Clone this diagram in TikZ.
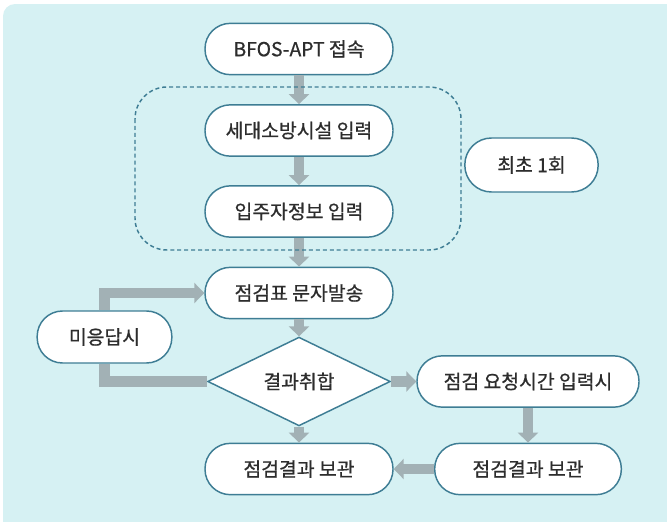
\documentclass[tikz,border=0pt]{standalone}
\usepackage{fontspec}
\setmainfont{Noto Sans CJK KR}[FakeBold=0.7]
\usepackage{tikz}
\usetikzlibrary{shapes.geometric}
\usetikzlibrary{arrows.meta}

\definecolor{bgcyan}{RGB}{214,241,243}
\definecolor{boxline}{RGB}{62,125,148}
\definecolor{flowgray}{RGB}{162,177,181}
\definecolor{txtgray}{RGB}{45,45,45}

\begin{document}
\begin{tikzpicture}[x=0.75pt,y=-0.75pt,
  stepbox/.style={rectangle,draw=boxline,fill=white,line width=1.1pt,rounded corners=19pt,
    minimum width=141pt,minimum height=38.5pt,inner sep=0pt,text=txtgray,
    font=\fontsize{14.5}{17}\selectfont},
  choice/.style={diamond,draw=boxline,fill=white,line width=1.1pt,
    minimum width=137pt,minimum height=50pt,inner sep=0pt,text=txtgray,
    font=\fontsize{14.5}{17}\selectfont},
  flow/.style={draw=flowgray,line width=8pt,-{Triangle[width=15pt,length=7.5pt]}},
  flowline/.style={draw=flowgray,line width=8pt}]
\useasboundingbox (0,0) rectangle (667,521);
\fill[bgcyan,rounded corners=9pt] (3,4) rectangle (690,545);

%main column
\path (299,49) node(bfos) [stepbox]{BFOS-APT 접속};
\path (299,130.5) node(sedae) [stepbox]{세대소방시설 입력};
\path (299,211.5) node(ipju) [stepbox]{입주자정보 입력};
\path (299,293) node(chk) [stepbox]{점검표 문자발송};
\path (299,381.5) node(dia) [choice]{결과취합};
\path (299,469) node(keepL) [stepbox]{점검결과 보관};

%side nodes
\path (531.5,165) node(once) [stepbox,minimum width=100pt,minimum height=40.5pt,rounded corners=20pt]{최초 1회};
\path (104.5,337) node(mi) [stepbox,minimum width=101pt,minimum height=39pt]{미응답시};
\path (528,381.5) node(req) [stepbox,minimum width=166.5pt]{점검 요청시간 입력시};
\path (528,469) node(keepR) [stepbox,minimum width=140pt]{점검결과 보관};

\draw[flow] (bfos) -- (sedae);
\draw[flow] (sedae) -- (ipju);
\draw[flow] (ipju) -- (chk);
\draw[flow] (chk) -- (dia);
\draw[flow] (dia) -- (keepL);
\draw[flowline] (dia.west) -| (mi.south);
\draw[flow] (mi.north) |- (chk.west);
\draw[flow] (dia.east) -- (req.west);
\draw[flow] (req) -- (keepR);
\draw[flow] (keepR) -- (keepL);

%first time only
\draw[boxline,line width=1.1pt,dash pattern=on 3pt off 2.2pt,rounded corners=24pt] (135,87) rectangle (461,250);
\end{tikzpicture}
\end{document}
